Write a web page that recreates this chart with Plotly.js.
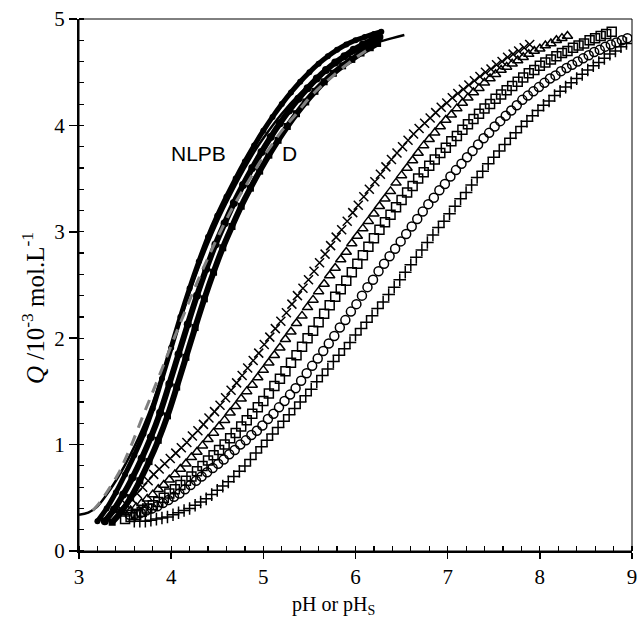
<!DOCTYPE html>
<html><head><meta charset="utf-8">
<script src="https://cdn.plot.ly/plotly-3.0.1.min.js"></script>
<style>html,body{margin:0;padding:0;background:#fff}</style>
</head><body><div id="chart" style="width:641px;height:634px"></div>
<script>
// Right cluster (titration series)
const A_pH = [3.45,3.51,3.57,3.63,3.69,3.75,3.81,3.87,3.93,3.99,4.05,4.11,4.17,4.23,4.29,4.35,4.41,4.47,4.53,4.59,4.65,4.71,4.77,4.83,4.89,4.95,5.01,5.07,5.13,5.19,5.25,5.31,5.37,5.43,5.49,5.55,5.61,5.67,5.73,5.79,5.85,5.91,5.97,6.03,6.09,6.15,6.21,6.27,6.33,6.39,6.45,6.51,6.57,6.63,6.69,6.75,6.81,6.87,6.93,6.99,7.05,7.11,7.17,7.23,7.29,7.35,7.41,7.47,7.53,7.59,7.65,7.71,7.77,7.83,7.89];
const A_Q = [0.40,0.44,0.49,0.54,0.60,0.66,0.72,0.77,0.82,0.87,0.92,0.97,1.02,1.08,1.13,1.19,1.25,1.31,1.37,1.44,1.51,1.58,1.65,1.72,1.79,1.86,1.94,2.01,2.09,2.16,2.24,2.32,2.40,2.47,2.55,2.63,2.71,2.79,2.87,2.95,3.02,3.10,3.18,3.25,3.33,3.40,3.47,3.54,3.61,3.68,3.74,3.80,3.86,3.92,3.97,4.02,4.07,4.12,4.17,4.21,4.26,4.30,4.34,4.38,4.42,4.46,4.50,4.53,4.57,4.60,4.64,4.67,4.70,4.73,4.76];

const B_pH = [3.50,3.56,3.62,3.68,3.74,3.80,3.86,3.92,3.98,4.04,4.10,4.16,4.22,4.28,4.34,4.40,4.46,4.52,4.58,4.64,4.70,4.76,4.82,4.88,4.94,5.00,5.06,5.12,5.18,5.24,5.30,5.36,5.42,5.48,5.54,5.60,5.66,5.72,5.78,5.84,5.90,5.96,6.02,6.08,6.14,6.20,6.26,6.32,6.38,6.44,6.50,6.56,6.62,6.68,6.74,6.80,6.86,6.92,6.98,7.04,7.10,7.16,7.22,7.28,7.34,7.40,7.46,7.52,7.58,7.64,7.70,7.76,7.82,7.88,7.94,8.00,8.06,8.12,8.18,8.24,8.30];
const B_Q = [0.35,0.38,0.41,0.45,0.49,0.53,0.58,0.62,0.67,0.72,0.77,0.82,0.88,0.93,0.99,1.05,1.11,1.17,1.23,1.30,1.36,1.43,1.50,1.56,1.63,1.70,1.77,1.84,1.91,1.99,2.06,2.14,2.21,2.29,2.36,2.44,2.51,2.59,2.66,2.74,2.81,2.89,2.96,3.03,3.10,3.17,3.24,3.31,3.38,3.46,3.53,3.60,3.67,3.74,3.81,3.87,3.93,3.99,4.05,4.10,4.16,4.21,4.26,4.31,4.35,4.40,4.44,4.48,4.52,4.55,4.58,4.61,4.64,4.67,4.70,4.72,4.75,4.77,4.80,4.82,4.84];

const C_pH = [3.50,3.56,3.62,3.68,3.74,3.80,3.86,3.92,3.98,4.04,4.10,4.16,4.22,4.28,4.34,4.40,4.46,4.52,4.58,4.64,4.70,4.76,4.82,4.88,4.94,5.00,5.06,5.12,5.18,5.24,5.30,5.36,5.42,5.48,5.54,5.60,5.66,5.72,5.78,5.84,5.90,5.96,6.02,6.08,6.14,6.20,6.26,6.32,6.38,6.44,6.50,6.56,6.62,6.68,6.74,6.80,6.86,6.92,6.98,7.04,7.10,7.16,7.22,7.28,7.34,7.40,7.46,7.52,7.58,7.64,7.70,7.76,7.82,7.88,7.94,8.00,8.06,8.12,8.18,8.24,8.30,8.36,8.42,8.48,8.54,8.60,8.66,8.72,8.78];
const C_Q = [0.30,0.32,0.34,0.37,0.40,0.43,0.46,0.50,0.54,0.58,0.62,0.66,0.70,0.75,0.80,0.85,0.90,0.95,1.00,1.06,1.11,1.17,1.23,1.29,1.35,1.41,1.48,1.55,1.62,1.69,1.77,1.84,1.92,2.00,2.07,2.15,2.23,2.31,2.39,2.46,2.54,2.62,2.70,2.78,2.86,2.94,3.02,3.09,3.16,3.23,3.30,3.37,3.43,3.50,3.56,3.62,3.68,3.74,3.79,3.85,3.90,3.96,4.01,4.06,4.11,4.16,4.20,4.25,4.29,4.33,4.37,4.41,4.45,4.49,4.52,4.56,4.59,4.62,4.65,4.68,4.70,4.73,4.75,4.77,4.80,4.82,4.84,4.86,4.88];

const D_pH = [3.55,3.61,3.67,3.73,3.79,3.85,3.91,3.97,4.03,4.09,4.15,4.21,4.27,4.33,4.39,4.45,4.51,4.57,4.63,4.69,4.75,4.81,4.87,4.93,4.99,5.05,5.11,5.17,5.23,5.29,5.35,5.41,5.47,5.53,5.59,5.65,5.71,5.77,5.83,5.89,5.95,6.01,6.07,6.13,6.19,6.25,6.31,6.37,6.43,6.49,6.55,6.61,6.67,6.73,6.79,6.85,6.91,6.97,7.03,7.09,7.15,7.21,7.27,7.33,7.39,7.45,7.51,7.57,7.63,7.69,7.75,7.81,7.87,7.93,7.99,8.05,8.11,8.17,8.23,8.29,8.35,8.41,8.47,8.53,8.59,8.65,8.71,8.77,8.83,8.89,8.95];
const D_Q = [0.34,0.35,0.36,0.38,0.40,0.42,0.45,0.48,0.51,0.54,0.58,0.62,0.66,0.70,0.74,0.78,0.82,0.86,0.91,0.95,1.00,1.04,1.09,1.13,1.18,1.24,1.29,1.35,1.41,1.47,1.53,1.60,1.67,1.74,1.81,1.88,1.95,2.02,2.10,2.17,2.25,2.32,2.40,2.48,2.55,2.63,2.70,2.77,2.84,2.91,2.98,3.05,3.12,3.19,3.26,3.32,3.39,3.45,3.52,3.58,3.64,3.70,3.76,3.82,3.88,3.93,3.99,4.04,4.09,4.14,4.19,4.24,4.28,4.32,4.36,4.40,4.44,4.47,4.51,4.54,4.57,4.60,4.63,4.66,4.69,4.71,4.74,4.76,4.78,4.80,4.82];

const E_pH = [3.60,3.66,3.72,3.78,3.84,3.90,3.96,4.02,4.08,4.14,4.20,4.26,4.32,4.38,4.44,4.50,4.56,4.62,4.68,4.74,4.80,4.86,4.92,4.98,5.04,5.10,5.16,5.22,5.28,5.34,5.40,5.46,5.52,5.58,5.64,5.70,5.76,5.82,5.88,5.94,6.00,6.06,6.12,6.18,6.24,6.30,6.36,6.42,6.48,6.54,6.60,6.66,6.72,6.78,6.84,6.90,6.96,7.02,7.08,7.14,7.20,7.26,7.32,7.38,7.44,7.50,7.56,7.62,7.68,7.74,7.80,7.86,7.92,7.98,8.04,8.10,8.16,8.22,8.28,8.34,8.40,8.46,8.52,8.58,8.64,8.70,8.76,8.82,8.88,8.94];
const E_Q = [0.28,0.28,0.28,0.29,0.30,0.31,0.32,0.34,0.36,0.38,0.40,0.43,0.46,0.49,0.53,0.57,0.61,0.65,0.70,0.75,0.80,0.86,0.92,0.98,1.04,1.10,1.16,1.22,1.28,1.34,1.40,1.46,1.52,1.59,1.65,1.71,1.78,1.84,1.90,1.96,2.03,2.09,2.15,2.21,2.28,2.34,2.41,2.48,2.55,2.62,2.69,2.76,2.83,2.90,2.97,3.04,3.10,3.17,3.24,3.31,3.37,3.44,3.51,3.57,3.64,3.70,3.76,3.82,3.88,3.93,3.99,4.04,4.09,4.14,4.19,4.23,4.28,4.32,4.36,4.40,4.44,4.48,4.52,4.56,4.59,4.63,4.67,4.70,4.74,4.77];

// Left cluster (surface pH series)
const L1_pH = [3.20,3.30,3.40,3.50,3.60,3.70,3.80,3.90,4.00,4.10,4.20,4.30,4.40,4.50,4.60,4.70,4.80,4.90,5.00,5.10,5.20,5.30,5.40,5.50,5.60,5.70,5.80,5.90,6.00,6.10,6.20,6.28];
const L1_Q = [0.28,0.40,0.55,0.72,0.90,1.10,1.34,1.62,1.91,2.20,2.47,2.72,2.95,3.15,3.33,3.50,3.66,3.81,3.95,4.08,4.20,4.31,4.41,4.50,4.58,4.65,4.71,4.76,4.80,4.83,4.86,4.88];
const L2_pH = [3.28,3.38,3.48,3.58,3.68,3.78,3.88,3.98,4.08,4.18,4.28,4.38,4.48,4.58,4.68,4.78,4.88,4.98,5.08,5.18,5.28,5.38,5.48,5.58,5.68,5.78,5.88,5.98,6.08,6.18,6.26];
const L2_Q = [0.28,0.39,0.53,0.69,0.87,1.07,1.30,1.57,1.85,2.13,2.40,2.65,2.88,3.08,3.27,3.44,3.60,3.75,3.89,4.02,4.14,4.25,4.35,4.44,4.52,4.59,4.65,4.71,4.76,4.80,4.83];
const L3_pH = [3.36,3.46,3.56,3.66,3.76,3.86,3.96,4.06,4.16,4.26,4.36,4.46,4.56,4.66,4.76,4.86,4.96,5.06,5.16,5.26,5.36,5.46,5.56,5.66,5.76,5.86,5.96,6.06,6.16,6.24];
const L3_Q = [0.27,0.37,0.50,0.66,0.84,1.04,1.27,1.54,1.82,2.10,2.37,2.62,2.85,3.05,3.24,3.41,3.57,3.72,3.86,3.99,4.11,4.22,4.32,4.41,4.49,4.56,4.62,4.68,4.73,4.77];

// NLPB model line
const NLPB_pH = [3.00,3.10,3.20,3.30,3.40,3.50,3.60,3.70,3.80,3.90,4.00,4.10,4.20,4.30,4.40,4.50,4.60,4.70,4.80,4.90,5.00,5.20,5.40,5.60,5.80,6.00,6.20,6.40,6.53];
const NLPB_Q = [0.34,0.36,0.42,0.53,0.66,0.81,0.98,1.17,1.39,1.64,1.90,2.17,2.43,2.67,2.89,3.09,3.27,3.44,3.60,3.75,3.88,4.11,4.30,4.46,4.59,4.69,4.77,4.82,4.85];

// D model (dashed)
const Dm_pH = [3.15,3.22,3.30,3.43,3.50,3.58,3.68,3.76,3.84,3.95,4.05,4.15,4.25,4.35,4.45,4.55,4.65,4.75,4.87,4.96,5.07,5.21,5.34,5.50,5.63,5.83,6.01,6.15];
const Dm_Q = [0.38,0.45,0.55,0.73,0.86,1.02,1.24,1.41,1.58,1.82,2.04,2.25,2.46,2.66,2.85,3.03,3.20,3.35,3.52,3.65,3.79,3.96,4.09,4.26,4.37,4.52,4.64,4.72];

const labels = [{text:'NLPB', x:4.30, y:3.74}, {text:'D', x:5.28, y:3.74}];
const xTitle = 'pH or pH<sub>S</sub>';
const yTitle = '<i>Q</i> /10<sup>-3</sup> mol.L<sup>-1</sup>';

function mk(x, y, sym){
  return {x:x, y:y, mode:'markers', type:'scatter',
    marker:{symbol:sym, size:9, color:'black', line:{color:'black', width:1.5}}};
}
function band(x, y, sym, lw, ms){
  return {x:x, y:y, mode:'lines+markers', type:'scatter',
    line:{color:'black', width:lw, shape:'spline'},
    marker:{symbol:sym, size:ms, color:'black'}};
}
const data = [
  mk(E_pH, E_Q, 'cross-thin-open'),
  mk(D_pH, D_Q, 'circle-open'),
  mk(C_pH, C_Q, 'square-open'),
  mk(B_pH, B_Q, 'triangle-up-open'),
  mk(A_pH, A_Q, 'x-thin-open'),
  band(L3_pH, L3_Q, 'square', 6, 7),
  band(L2_pH, L2_Q, 'circle', 6, 8),
  band(L1_pH, L1_Q, 'circle', 5, 6),
  {x:NLPB_pH, y:NLPB_Q, mode:'lines', type:'scatter', line:{color:'black', width:2.5, shape:'spline'}},
  {x:Dm_pH, y:Dm_Q, mode:'lines', type:'scatter', line:{color:'#808080', width:3, dash:'11px,8px', shape:'spline'}}
];

const serif = 'Liberation Serif, Times New Roman, serif';
const layout = {
  width:641, height:634, showlegend:false,
  paper_bgcolor:'white', plot_bgcolor:'white',
  margin:{l:79, r:9, t:19, b:83},
  font:{family:serif, size:21, color:'black'},
  xaxis:{range:[3,9], tick0:3, dtick:1, ticks:'outside', ticklen:6, tickwidth:1.5, tickcolor:'black',
    showline:true, linewidth:2, linecolor:'black', showgrid:false, zeroline:false,
    minor:{dtick:0.2, ticks:'inside', ticklen:5, tickwidth:1.2, tickcolor:'black'},
    tickfont:{family:serif, size:21}},
  yaxis:{range:[0,5], tick0:0, dtick:1, ticks:'outside', ticklen:8, tickwidth:1.5, tickcolor:'black',
    showline:true, linewidth:2, linecolor:'black', showgrid:false, zeroline:false,
    minor:{dtick:0.2, ticks:'inside', ticklen:5, tickwidth:1.2, tickcolor:'black'},
    tickfont:{family:serif, size:21}},
  shapes:[{type:'rect', xref:'paper', yref:'paper', x0:0, x1:1, y0:0, y1:1, line:{color:'black', width:1}}],
  annotations: labels.map(l => ({text:l.text, x:l.x, y:l.y, xref:'x', yref:'y', showarrow:false,
    font:{family:'Liberation Sans, Arial, sans-serif', size:21, color:'black'}})).concat([
    {text:xTitle, xref:'paper', yref:'paper', x:0.461, y:-0.103, xanchor:'center', yanchor:'middle', showarrow:false,
     font:{family:serif, size:20, color:'black'}},
    {text:yTitle, xref:'paper', yref:'paper', x:-0.083, y:0.457, xanchor:'center', yanchor:'middle', textangle:-90, showarrow:false,
     font:{family:serif, size:25, color:'black'}}
  ])
};
Plotly.newPlot('chart', data, layout, {staticPlot:true, displayModeBar:false});
</script></body></html>
